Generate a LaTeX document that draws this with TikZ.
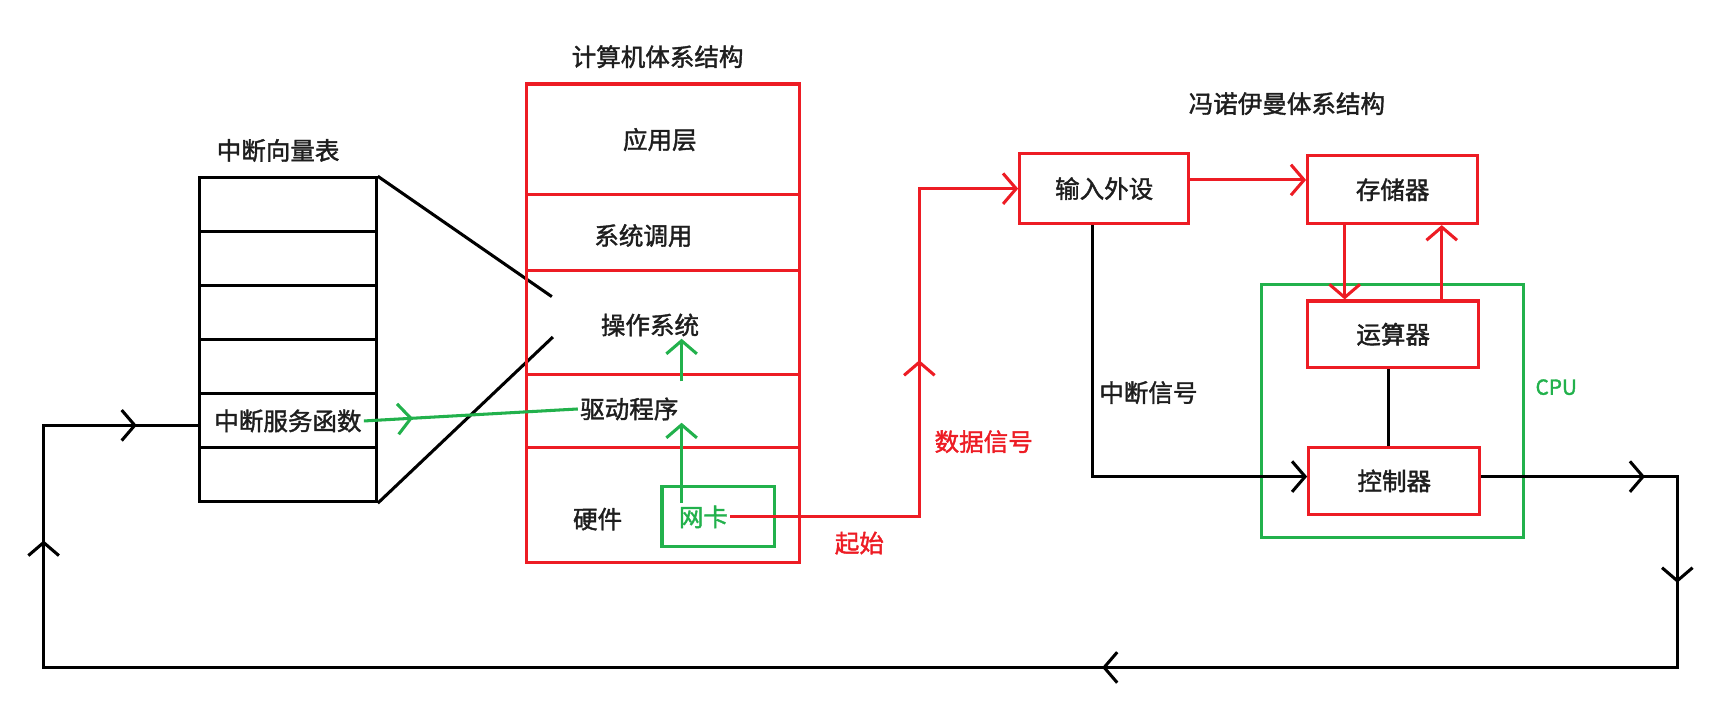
\documentclass[tikz,border=0pt]{standalone}
\usepackage{fontspec}
\newfontfamily\cjk{Noto Sans CJK SC}[FakeBold=1.6]
\usetikzlibrary{arrows.meta,decorations.markings,calc}
\definecolor{pred}{RGB}{237,28,36}
\definecolor{pgreen}{RGB}{34,177,76}
\definecolor{ptext}{RGB}{30,30,30}
\tikzset{
  lw/.style={line width=2.8pt},
  redbox/.style={draw=pred, lw, inner sep=0pt},
  greenbox/.style={draw=pgreen, lw, inner sep=0pt},
  blackbox/.style={draw=black, lw, inner sep=0pt},
  txt/.style={font=\cjk\fontsize{22.5}{26}\selectfont, text=ptext, inner sep=2pt},
  rline/.style={draw=pred, lw},
  gline/.style={draw=pgreen, lw},
  bline/.style={draw=black, lw},
  tip/.tip={Straight Barb[length=12pt,width=28pt]},
  markat/.style={postaction={decorate,decoration={markings,mark=at position #1 with {\arrow{tip}}}}},
}
\begin{document}
\begin{tikzpicture}[x=1pt,y=-1pt]
\useasboundingbox (0,0) rectangle (1568,646);

% ---- interrupt vector table
\node[txt] (tabtitle) at (255,138) {中断向量表};
\foreach \i/\y in {1/187.75,2/237.25,3/286.75,4/336.25,5/385.75,6/435.25}
  \node[blackbox, minimum width=162pt, minimum height=49.5pt] (r\i) at (264,\y) {};
\node[txt] (fntext) at (264,386) {中断服务函数};
\coordinate (dtop) at (506,272);
\coordinate (dbot) at (507,309);
\draw[bline] (r1.north east) -- (dtop);
\draw[bline] (r6.south east) -- (dbot);

% ---- computer architecture stack
\node[txt] (cmptitle) at (603,52) {计算机体系结构};
\node[redbox, minimum width=250pt, minimum height=101pt] (app) at (608,127.5) {};
\node[redbox, minimum width=250pt, minimum height=70pt] (sys) at (608,213) {};
\node[redbox, minimum width=250pt, minimum height=95pt] (os) at (608,295.5) {};
\node[redbox, minimum width=250pt, minimum height=67pt] (drv) at (608,376.5) {};
\node[redbox, minimum width=250pt, minimum height=106pt] (hw) at (608,463) {};
\node[txt] (apptext) at (605,128) {应用层};
\node[txt] (systext) at (590,216) {系统调用};
\node[txt] (ostext) at (596,298) {操作系统};
\node[txt] (drvtext) at (577,375) {驱动程序};
\node[txt] (hwtext) at (548,476) {硬件};
\node[greenbox, minimum width=103pt, minimum height=55pt] (wkbox) at (658.5,473.5) {};
\node[txt, text=pgreen] (wktext) at (645,474) {网卡};

% green arrows
\coordinate (gx) at (625,0);
\draw[gline, -tip] (gx |- wktext.north) -- (gx |- drvtext.south);
\draw[gline, -tip] ([yshift=-8pt]gx |- drv.north) -- (gx |- ostext.south);
\draw[gline, markat=45pt] (fntext.east) -- (drvtext.west);

% red data signal line
\node[txt, text=pred] (qishi) at (788,498) {起始};
\node[txt, text=pred] (sjxh) at (902,405) {数据信号};
\coordinate (rc) at (843,0);

% ---- von Neumann
\node[txt] (vntitle) at (1180,95) {冯诺伊曼体系结构};
\node[redbox, minimum width=155pt, minimum height=64pt] (inp) at (1012.5,173) {};
\node[txt] at (inp.center) (inptext) {输入外设};
\node[redbox, minimum width=156pt, minimum height=62pt] (mem) at (1277,174) {};
\node[txt] at (mem.center) (memtext) {存储器};
\node[greenbox, minimum width=240pt, minimum height=232pt] (cpu) at (1277,377) {};
\node[txt, text=pgreen, font=\cjk\fontsize{19}{22}\selectfont] (cpulabel) at (1427,355) {CPU};
\node[redbox, minimum width=157pt, minimum height=61pt] (alu) at (1277.5,306.5) {};
\node[txt] at (alu.center) (alutext) {运算器};
\node[redbox, minimum width=157pt, minimum height=62pt] (ctl) at (1278.5,441) {};
\node[txt] at (ctl.center) (ctltext) {控制器};
\node[txt] (zdxh) at (1053,360) {中断信号};

\draw[rline, markat=317pt, -tip] (wktext.east) -| (rc |- inp.west) -- (inp.west);
\draw[rline, -tip] ([yshift=8pt]inp.east) -- ([yshift=8pt]inp.east -| mem.west);
\coordinate (dx) at (1233,0);
\coordinate (ux) at (1322,0);
\draw[rline, -tip] (dx |- mem.south) -- (dx |- alu.north);
\draw[rline, -tip] (ux |- alu.north) -- (ux |- mem.south);
\draw[bline] ([xshift=-4pt]alu.south) -- ([xshift=-4pt]alu.south |- ctl.north);
\coordinate (ix) at (1002,0);
\draw[bline, -tip] (ix |- inp.south) |- ([yshift=4pt]ctl.west);

% loop
\coordinate (L1) at (1538,437);
\coordinate (L2) at (1538,612);
\coordinate (L3) at (40,612);
\coordinate (L4) at (40,390);
\draw[bline, line join=miter,
  postaction={decorate,decoration={markings,
    mark=at position 150pt with {\arrow{tip}},
    mark=at position 277pt with {\arrow{tip}},
    mark=at position 882pt with {\arrow{tip}},
    mark=at position 1969pt with {\arrow{tip}},
    mark=at position 2160pt with {\arrow{tip}}}}]
  ([yshift=4pt]ctl.east) -- (L1) -- (L2) -- (L3) -- (L4) -- (L4 -| r5.west);
\end{tikzpicture}
\end{document}
